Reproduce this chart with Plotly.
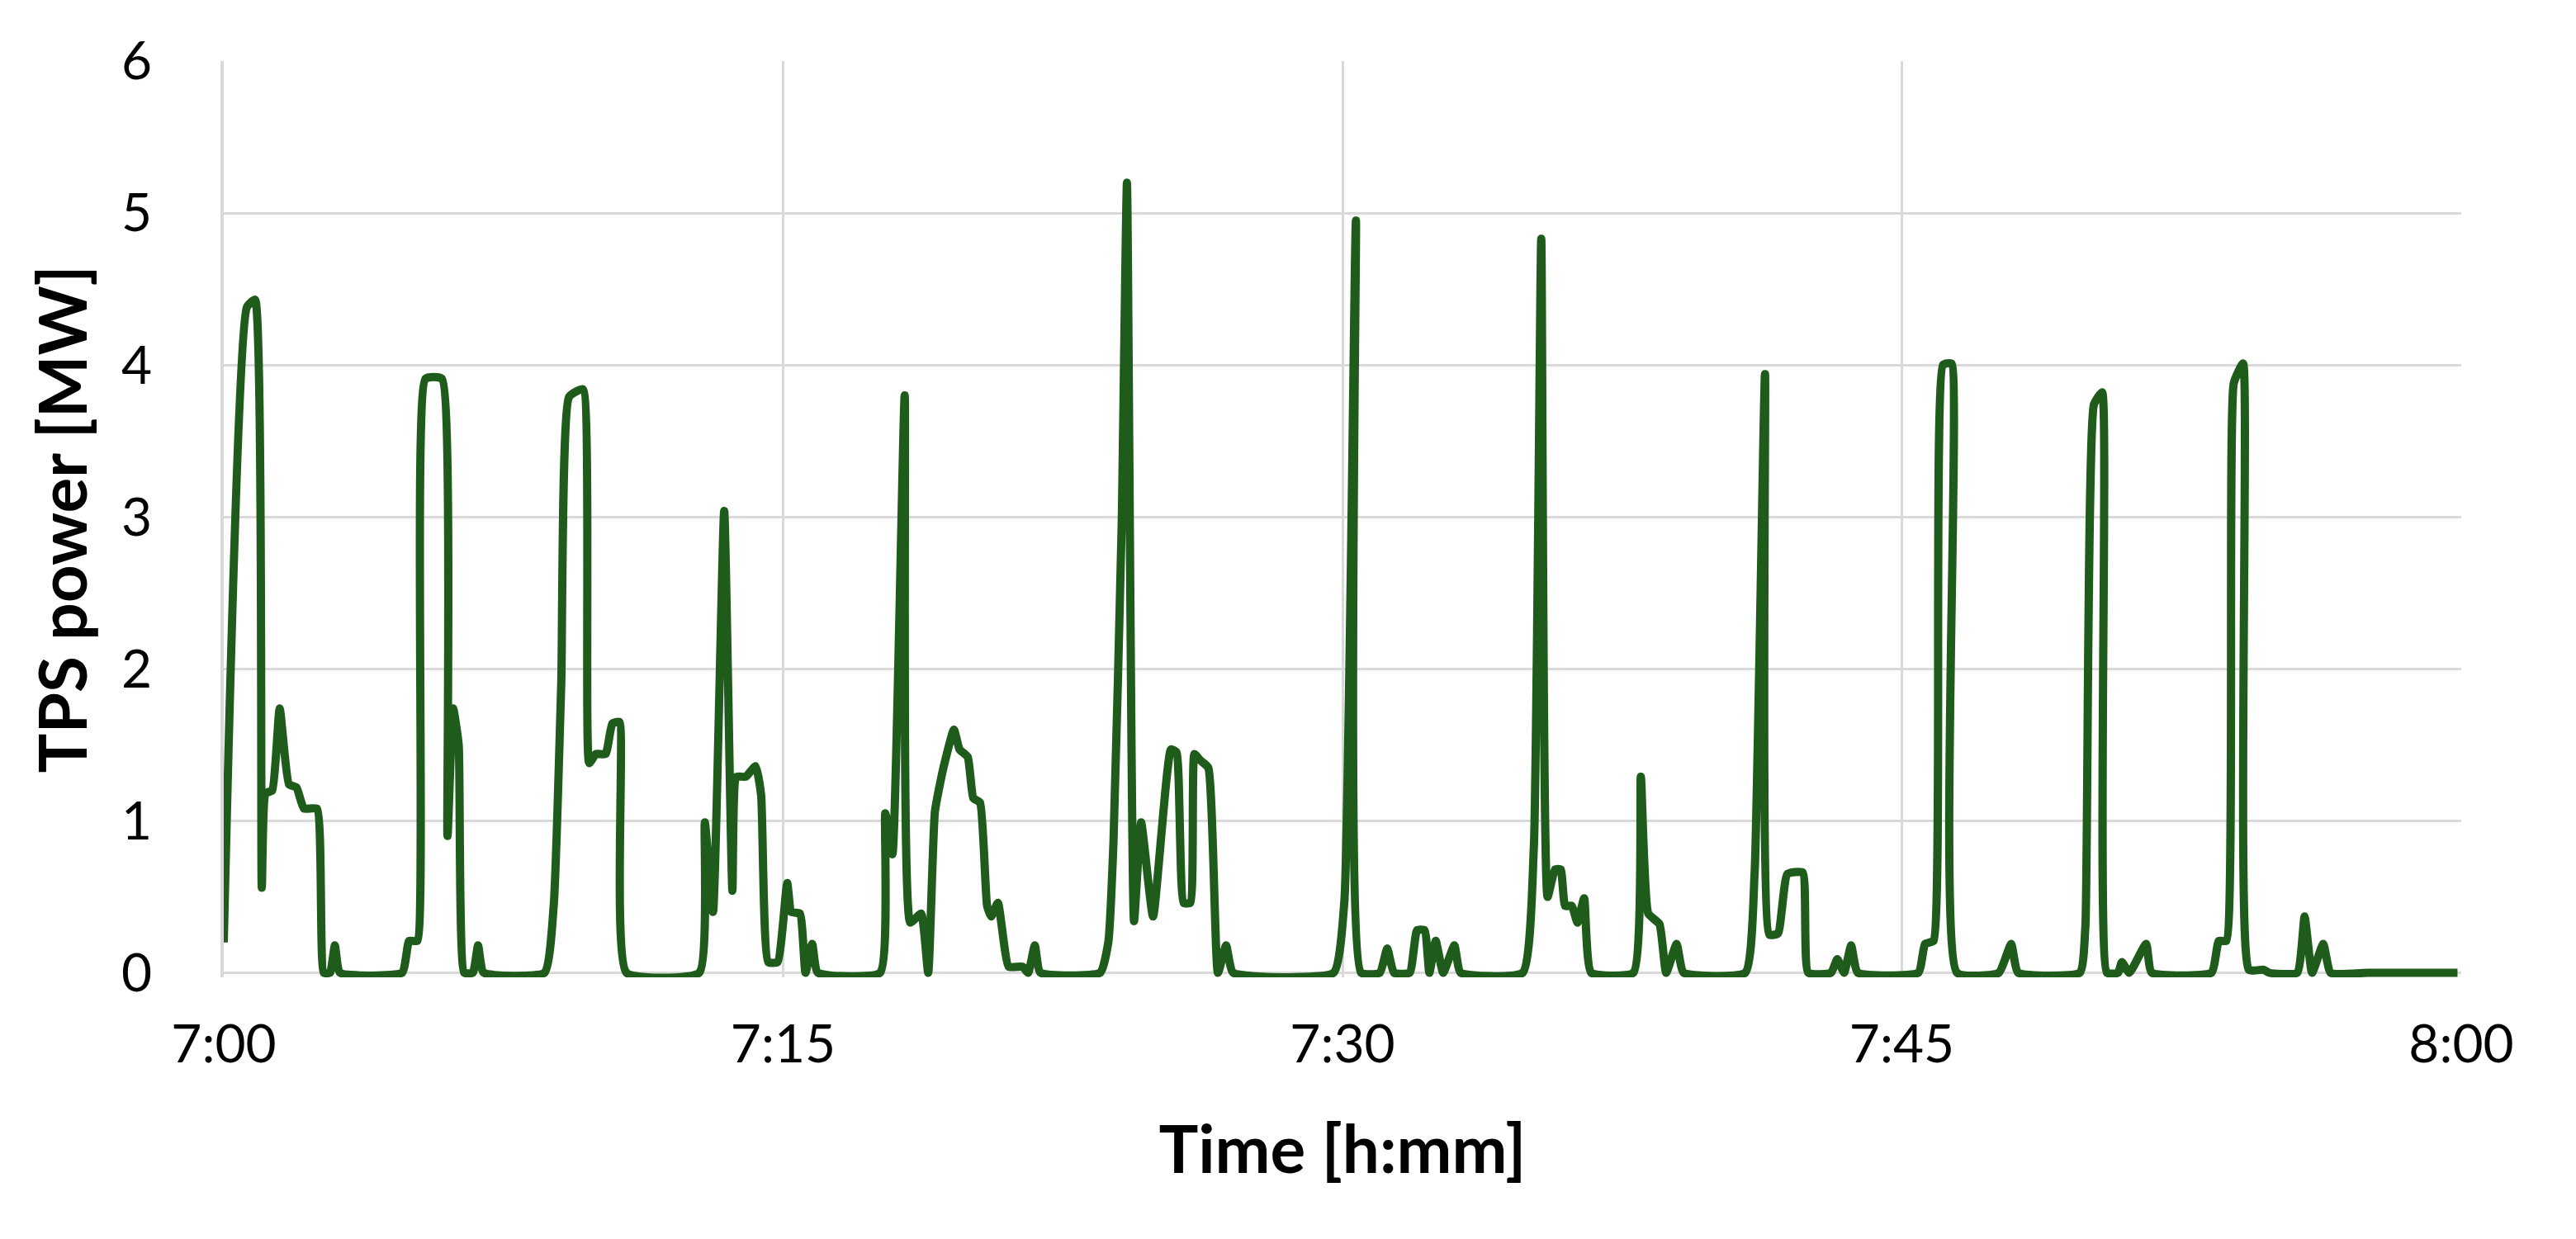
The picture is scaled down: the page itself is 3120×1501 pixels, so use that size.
import plotly.graph_objects as go

# minutes after 7:00
time_min = [0.0, 0.62, 0.84, 1.02, 1.12, 1.3, 1.5, 1.75, 1.95, 2.15, 2.5, 2.68, 2.85, 2.98, 3.12,
            4.78, 4.97, 5.19, 5.41, 5.85, 6.0, 6.15, 6.3, 6.45, 6.68, 6.82, 6.97,
            8.6, 8.85, 9.05, 9.26, 9.63, 9.8, 9.98, 10.24, 10.42, 10.61, 10.8,
            12.75, 12.9, 13.12, 13.42, 13.64, 13.75, 14.0, 14.26, 14.41, 14.6, 14.85, 15.11, 15.22, 15.45, 15.6, 15.78, 15.93,
            17.6, 17.74, 17.93, 18.26, 18.41, 18.7, 18.89, 19.07, 19.3, 19.58, 19.73, 19.95, 20.1, 20.28, 20.47, 20.58, 20.76,
            21.05, 21.42, 21.57, 21.75, 21.9,
            23.5, 23.72, 23.86, 24.08, 24.22, 24.41, 24.6, 24.92, 25.4, 25.55, 25.74, 25.92, 26.03, 26.18, 26.4, 26.66, 26.88, 27.07,
            29.76, 30.05, 30.36, 30.5, 31.0, 31.2, 31.38, 31.8, 32.0, 32.2, 32.33, 32.5, 32.7, 33.0, 33.17,
            34.83, 35.13, 35.33, 35.5, 35.7, 35.85, 35.97, 36.15, 36.3, 36.48, 36.67,
            37.8, 38.0, 38.2, 38.5, 38.68, 38.96, 39.15,
            40.8, 41.05, 41.33, 41.45, 41.68, 41.93, 42.34, 42.49, 43.1, 43.27, 43.45, 43.64, 43.82,
            45.44, 45.62, 45.85, 46.1, 46.33, 46.48, 47.6, 47.93, 48.12,
            49.77, 49.92, 50.15, 50.37, 50.5, 50.8, 50.9, 51.1, 51.55, 51.7,
            53.3, 53.5, 53.7, 53.9, 54.15, 54.3, 54.7, 54.85, 55.6, 55.8, 56.0, 56.3, 56.5, 57.5, 58.5, 59.9]

tps_power_mw = [0.2, 4.38, 4.43, 0.56, 1.18, 1.2, 1.74, 1.24, 1.22, 1.08, 1.08, 0.0, 0.0, 0.18, 0.0,
                0.0, 0.21, 0.21, 3.91, 3.91, 0.9, 1.74, 1.5, 0.0, 0.0, 0.18, 0.0,
                0.0, 0.45, 1.9, 3.79, 3.84, 1.38, 1.44, 1.44, 1.64, 1.65, 0.0,
                0.0, 0.99, 0.4, 3.04, 0.54, 1.29, 1.29, 1.36, 1.17, 0.07, 0.07, 0.59, 0.4, 0.39, 0.0, 0.19, 0.0,
                0.0, 1.05, 0.78, 3.8, 0.33, 0.39, 0.0, 1.06, 1.35, 1.6, 1.47, 1.42, 1.15, 1.12, 0.44, 0.37, 0.46,
                0.04, 0.04, 0.0, 0.18, 0.0,
                0.0, 0.2, 0.87, 2.96, 5.2, 0.34, 0.99, 0.37, 1.47, 1.45, 0.46, 0.46, 1.44, 1.4, 1.35, 0.0, 0.18, 0.0,
                0.0, 0.47, 4.95, 0.0, 0.0, 0.16, 0.0, 0.0, 0.28, 0.28, 0.0, 0.21, 0.0, 0.18, 0.0,
                0.0, 0.82, 4.83, 0.5, 0.68, 0.68, 0.44, 0.44, 0.33, 0.49, 0.0,
                0.0, 1.29, 0.39, 0.32, 0.0, 0.19, 0.0,
                0.0, 0.65, 3.94, 0.25, 0.26, 0.65, 0.66, 0.0, 0.0, 0.09, 0.0, 0.18, 0.0,
                0.0, 0.19, 0.21, 4.0, 4.01, 0.0, 0.0, 0.19, 0.0,
                0.0, 0.3, 3.74, 3.82, 0.0, 0.0, 0.07, 0.0, 0.19, 0.0,
                0.0, 0.21, 0.21, 3.88, 4.01, 0.02, 0.02, 0.0, 0.0, 0.37, 0.0, 0.19, 0.0, 0.0, 0.0, 0.0]

x_tick_vals = [0, 15, 30, 45, 60]
x_tick_labels = ["7:00", "7:15", "7:30", "7:45", "8:00"]
y_tick_vals = [0, 1, 2, 3, 4, 5, 6]

FONT = "Lato"
GRID = "#D9D9D9"

fig = go.Figure()
fig.add_trace(go.Scatter(
    x=time_min, y=tps_power_mw, mode="lines",
    line=dict(color="#1F5C1B", width=10, shape="spline", smoothing=0.45),
    showlegend=False, hoverinfo="skip",
))

fig.update_layout(
    width=3120, height=1501,
    paper_bgcolor="white", plot_bgcolor="white",
    margin=dict(l=263, r=147, t=66, b=325),
    font=dict(family=FONT, color="black"),
    xaxis=dict(
        range=[0, 60], tickvals=x_tick_vals, ticktext=x_tick_labels,
        showgrid=True, gridcolor=GRID, gridwidth=3,
        showline=False,
        zeroline=False, ticks="", tickfont=dict(size=64, family=FONT),
        ticklabelstandoff=38,
        title=dict(text="<b>Time [h:mm]</b>", font=dict(size=80, family=FONT), standoff=64),
    ),
    yaxis=dict(
        range=[-0.03, 6], tickvals=y_tick_vals,
        showgrid=True, gridcolor=GRID, gridwidth=3,
        showline=True, linecolor=GRID, linewidth=4,
        zeroline=False, ticks="", tickfont=dict(size=64, family=FONT),
        ticklabelstandoff=70,
        title=dict(text="<b>TPS power [MW]</b>", font=dict(size=80, family=FONT), standoff=16),
    ),
)

fig.write_html("out.html")
